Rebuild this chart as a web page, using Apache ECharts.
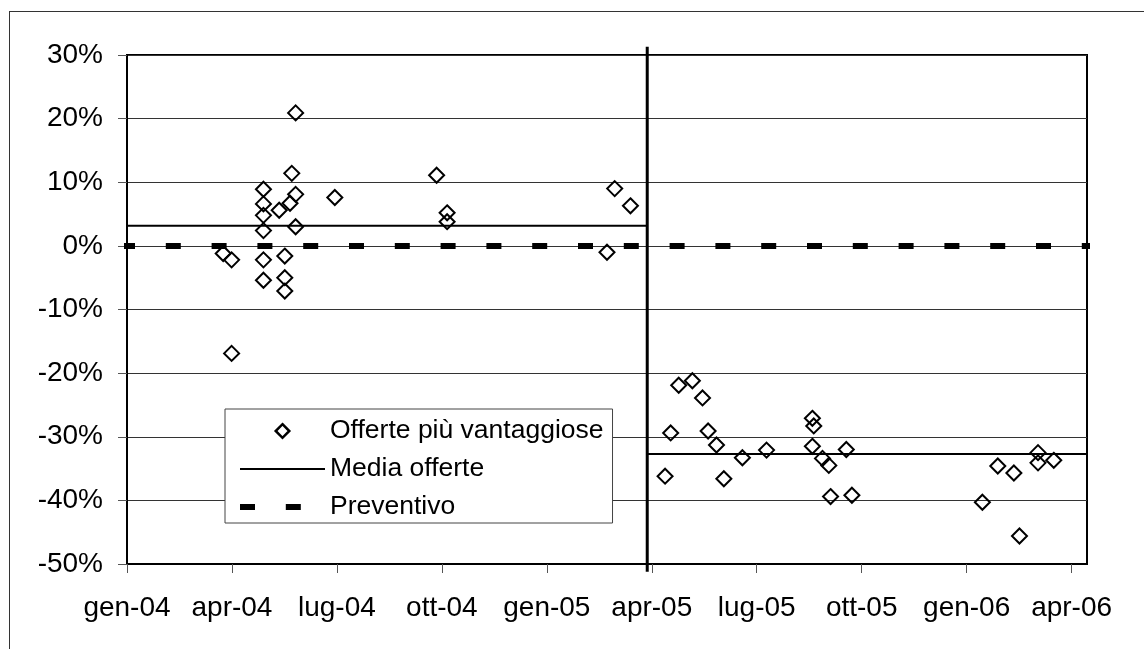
<!DOCTYPE html>
<html>
<head>
<meta charset="utf-8">
<script src="https://cdn.jsdelivr.net/npm/echarts@6/dist/echarts.min.js"></script>
<style>
  html, body { margin: 0; padding: 0; background: #fff; }
  #wrap { position: relative; width: 1144px; height: 649px; overflow: hidden; }
  #frame { position: absolute; left: 9px; top: 11px; right: -20px; bottom: -20px;
           border-left: 1.5px solid #333; border-top: 1.5px solid #333; }
  #chart { position: absolute; left: 0; top: 0; width: 1144px; height: 649px; }
</style>
</head>
<body>
<div id="wrap"><div id="frame"></div><div id="chart"></div></div>
<script>
// Asse x: mesi trascorsi da gennaio 2004 (0 = gen-04)
const tickMesi = [0, 3, 6, 9, 12, 15, 18, 21, 24, 27];
const tickEtichette = ['gen-04', 'apr-04', 'lug-04', 'ott-04', 'gen-05',
                       'apr-05', 'lug-05', 'ott-05', 'gen-06', 'apr-06'];

// Offerte più vantaggiose, primo periodo: [mese, scostamento %]
const offertePrimo = [
  [2.75, -1.2], [2.99, -2.2], [2.99, -16.9],
  [3.90, 8.9], [3.90, 6.6], [3.90, 4.8], [3.90, 2.4], [3.90, -2.2], [3.90, -5.4],
  [4.35, 5.6], [4.51, -1.6], [4.51, -5.0], [4.51, -7.1], [4.66, 6.7],
  [4.71, 11.4], [4.82, 20.9], [4.82, 8.1], [4.82, 3.0], [5.94, 7.6],
  [8.85, 11.1], [9.15, 5.2], [9.15, 3.8],
  [13.72, -1.0], [13.94, 9.0], [14.39, 6.3]
];

// Offerte più vantaggiose, secondo periodo
const offerteSecondo = [
  [15.38, -36.2], [15.54, -29.4], [15.77, -21.9], [16.16, -21.2], [16.45, -23.9],
  [16.61, -29.1], [16.85, -31.3], [17.06, -36.6], [17.59, -33.3], [18.28, -32.1],
  [19.59, -27.1], [19.63, -28.3], [19.59, -31.5], [19.88, -33.4], [20.06, -34.5],
  [20.11, -39.4], [20.56, -32.0], [20.72, -39.2],
  [24.45, -40.3], [24.89, -34.6], [25.35, -35.7], [25.51, -45.6],
  [26.04, -32.5], [26.04, -34.1], [26.49, -33.7]
];

// Media delle offerte per periodo e valore a preventivo
const mediaPrimo = 3.15;
const mediaSecondo = -32.7;
const preventivo = 0;

// Estremi orizzontali delle linee e cambio di periodo
const meseInizio = -0.2;
const meseCambio = 14.87;
const meseFine = 27.71;
const divisoriaEstremi = [31.3, -51.2];

const FONT = '"Liberation Sans", Arial, sans-serif';
const TRASPARENTE = 'rgba(0,0,0,0)';

const chart = echarts.init(document.getElementById('chart'), null, { renderer: 'canvas' });

chart.setOption({
  animation: false,
  backgroundColor: 'transparent',
  grid: {
    left: 127, right: 57, top: 55, bottom: 85,
    show: true, borderColor: '#000', borderWidth: 2, backgroundColor: 'transparent'
  },
  xAxis: {
    type: 'value',
    min: 0, max: 27.44, interval: 3,
    splitLine: { show: false },
    axisLine: { show: true, onZero: false, lineStyle: { color: '#000', width: 2 } },
    axisTick: { show: true, length: 9, customValues: tickMesi,
                lineStyle: { color: '#555', width: 1 } },
    axisLabel: {
      customValues: tickMesi,
      formatter: v => { const i = tickMesi.indexOf(v); return i >= 0 ? tickEtichette[i] : ''; },
      color: '#000', fontFamily: FONT, fontSize: 28, margin: 30
    }
  },
  yAxis: {
    type: 'value',
    min: -50, max: 30, interval: 10,
    axisLine: { show: true, onZero: false, lineStyle: { color: '#000', width: 2 } },
    axisTick: { show: true, length: 9, lineStyle: { color: '#555', width: 1 } },
    splitLine: { show: true, lineStyle: { color: '#333', width: 1 } },
    axisLabel: {
      formatter: v => v + '%',
      color: '#000', fontFamily: FONT, fontSize: 28, margin: 24
    }
  },
  legend: {
    orient: 'vertical',
    left: 225, top: 409,
    padding: [7, 9, 1, 12],
    itemWidth: 85, itemHeight: 17, itemGap: 8,
    backgroundColor: '#fff', borderColor: '#444', borderWidth: 1, borderRadius: 0,
    textStyle: { fontFamily: FONT, fontSize: 26.5, color: '#000', lineHeight: 30 },
    data: [
      { name: 'Offerte più vantaggiose',
        itemStyle: { color: TRASPARENTE, borderColor: '#000', borderWidth: 2.5 },
        lineStyle: { width: 0, opacity: 0 } },
      { name: 'Media offerte', itemStyle: { color: TRASPARENTE, borderWidth: 0, opacity: 0 },
        lineStyle: { width: 2, color: '#000' } },
      { name: 'Preventivo', itemStyle: { color: TRASPARENTE, borderWidth: 0, opacity: 0 },
        lineStyle: { width: 6, color: '#000', type: [15, 30.8], dashOffset: 0, cap: 'butt' } }
    ]
  },
  series: [
    {
      name: 'Preventivo',
      type: 'line',
      data: [[meseInizio, preventivo], [meseFine, preventivo]],
      symbol: 'none', clip: false, silent: true, z: 3,
      lineStyle: { color: '#000', width: 6, type: [15, 30.8], dashOffset: 0, cap: 'butt' }
    },
    {
      name: 'Media offerte',
      type: 'line',
      data: [[meseInizio, mediaPrimo], [meseCambio, mediaPrimo]],
      symbol: 'none', clip: false, silent: true, z: 4,
      lineStyle: { color: '#000', width: 2 }
    },
    {
      name: 'Media offerte',
      type: 'line',
      data: [[meseCambio, mediaSecondo], [meseFine, mediaSecondo]],
      symbol: 'none', clip: false, silent: true, z: 4,
      lineStyle: { color: '#000', width: 2 }
    },
    {
      name: 'Cambio periodo',
      type: 'line',
      data: [[meseCambio, divisoriaEstremi[0]], [meseCambio, divisoriaEstremi[1]]],
      symbol: 'none', clip: false, silent: true, z: 4,
      lineStyle: { color: '#000', width: 3 }
    },
    {
      // offerte come soli marcatori a rombo, senza linea di collegamento
      name: 'Offerte più vantaggiose',
      type: 'line',
      data: offertePrimo.concat(offerteSecondo),
      showSymbol: true, showAllSymbol: true,
      symbol: 'diamond', symbolSize: 15, z: 5,
      lineStyle: { width: 0, opacity: 0 },
      itemStyle: { color: TRASPARENTE, borderColor: '#000', borderWidth: 2, opacity: 1 }
    }
  ]
});
</script>
</body>
</html>
